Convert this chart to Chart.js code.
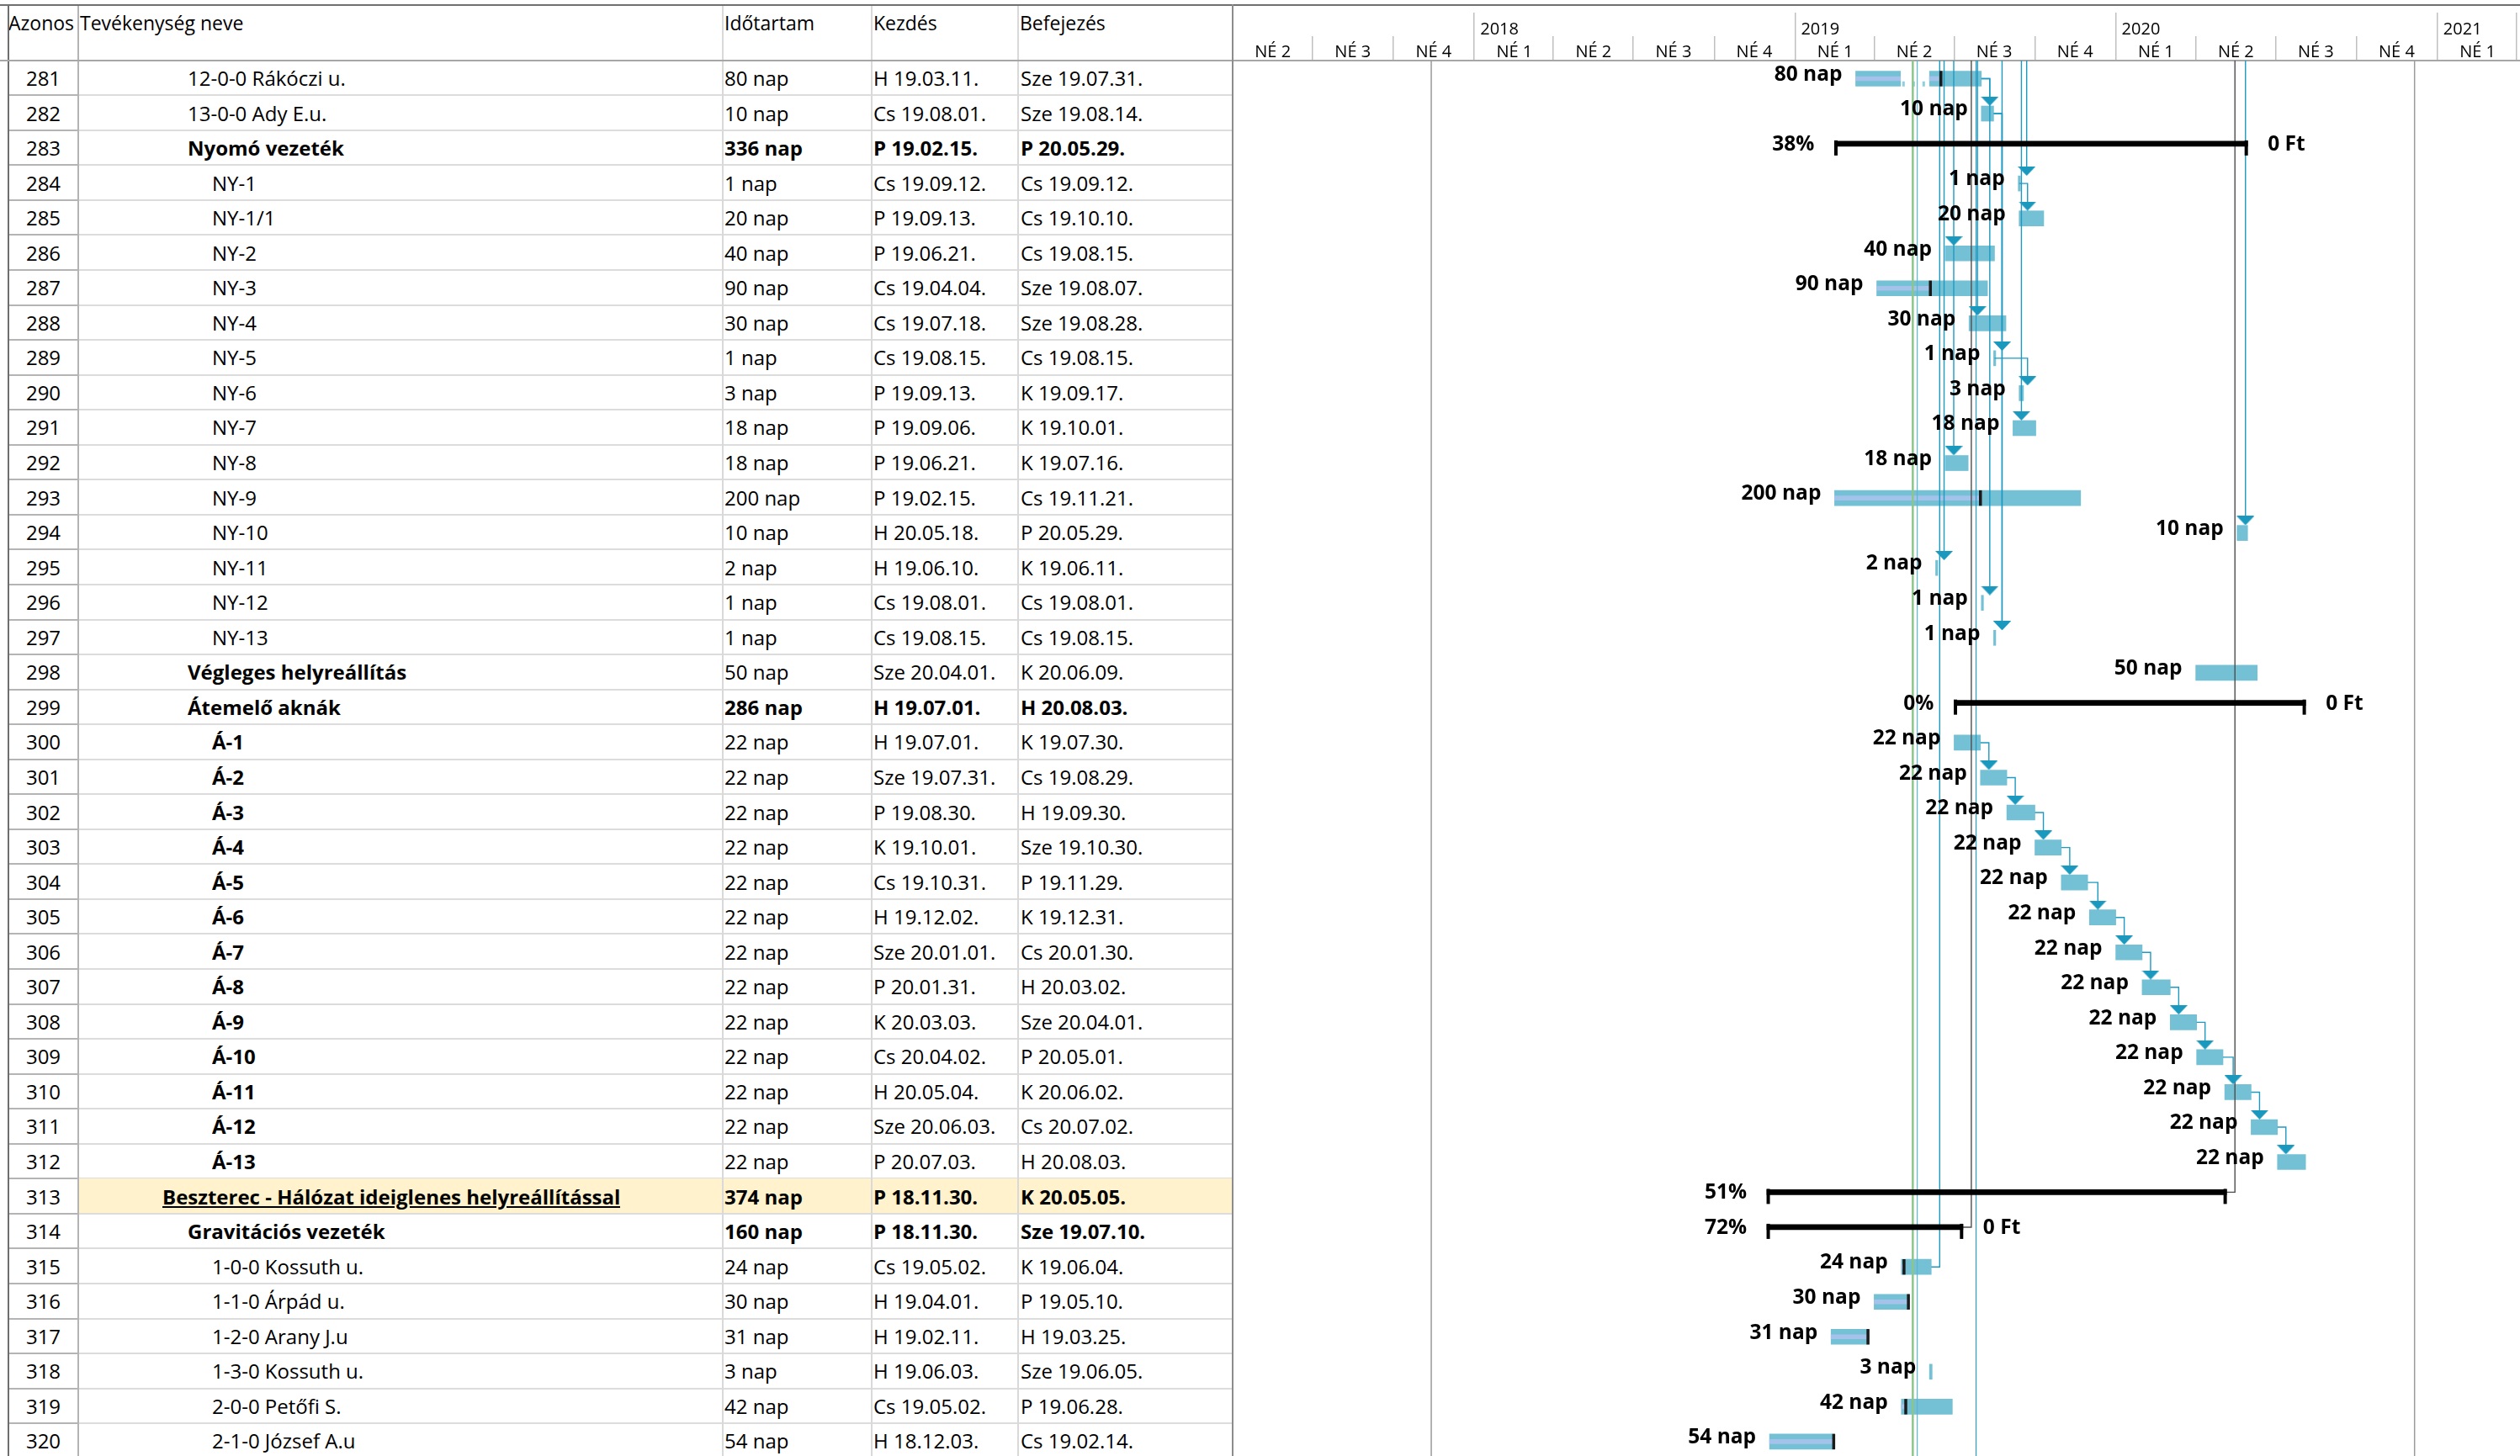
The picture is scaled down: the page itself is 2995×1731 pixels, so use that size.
<!DOCTYPE html>
<html lang="hu">
<head>
<meta charset="UTF-8">
<title>Beszterec - ütemterv</title>
<script src="https://cdn.jsdelivr.net/npm/chart.js"></script>
<style>
  html, body { margin: 0; padding: 0; background: #fff; }
  body { width: 2995px; height: 1731px; overflow: hidden; position: relative; font-family: "Open Sans", sans-serif; color: #000; }
  #grid { position: absolute; left: 0; top: 0; width: 1465px; height: 1740px; }
  .c { position: absolute; white-space: nowrap; font-size: 24px; box-sizing: border-box; overflow: hidden; display: flex; align-items: center; }
  .ln { position: absolute; }
  #gantt { position: absolute; left: 1465px; top: 0; }
</style>
</head>
<body>
<div id="grid"></div>
<canvas id="gantt" width="1530" height="1740"></canvas>
<script>
// ---- table data ----
const headers = ['Azonos', 'Tevékenység neve', 'Időtartam', 'Kezdés', 'Befejezés'];
const ids = [281, 282, 283, 284, 285, 286, 287, 288, 289, 290, 291, 292, 293, 294, 295, 296, 297, 298, 299, 300,
             301, 302, 303, 304, 305, 306, 307, 308, 309, 310, 311, 312, 313, 314, 315, 316, 317, 318, 319, 320];
const names = ['12-0-0 Rákóczi u.', '13-0-0 Ady E.u.', 'Nyomó vezeték', 'NY-1', 'NY-1/1', 'NY-2', 'NY-3', 'NY-4',
  'NY-5', 'NY-6', 'NY-7', 'NY-8', 'NY-9', 'NY-10', 'NY-11', 'NY-12', 'NY-13', 'Végleges helyreállítás',
  'Átemelő aknák', 'Á-1', 'Á-2', 'Á-3', 'Á-4', 'Á-5', 'Á-6', 'Á-7', 'Á-8', 'Á-9', 'Á-10', 'Á-11', 'Á-12', 'Á-13',
  'Beszterec - Hálózat ideiglenes helyreállítással', 'Gravitációs vezeték', '1-0-0 Kossuth u.', '1-1-0 Árpád u.',
  '1-2-0 Arany J.u', '1-3-0 Kossuth u.', '2-0-0 Petőfi S.', '2-1-0 József A.u'];
const levels = [2, 2, 2, 3, 3, 3, 3, 3, 3, 3, 3, 3, 3, 3, 3, 3, 3, 2, 2, 3,
                3, 3, 3, 3, 3, 3, 3, 3, 3, 3, 3, 3, 1, 2, 3, 3, 3, 3, 3, 3];
const nameBold = [0, 0, 1, 0, 0, 0, 0, 0, 0, 0, 0, 0, 0, 0, 0, 0, 0, 1, 1, 1,
                  1, 1, 1, 1, 1, 1, 1, 1, 1, 1, 1, 1, 1, 1, 0, 0, 0, 0, 0, 0];
const durations = ['80 nap', '10 nap', '336 nap', '1 nap', '20 nap', '40 nap', '90 nap', '30 nap', '1 nap', '3 nap',
  '18 nap', '18 nap', '200 nap', '10 nap', '2 nap', '1 nap', '1 nap', '50 nap', '286 nap', '22 nap',
  '22 nap', '22 nap', '22 nap', '22 nap', '22 nap', '22 nap', '22 nap', '22 nap', '22 nap', '22 nap',
  '22 nap', '22 nap', '374 nap', '160 nap', '24 nap', '30 nap', '31 nap', '3 nap', '42 nap', '54 nap'];
const starts = ['H 19.03.11.', 'Cs 19.08.01.', 'P 19.02.15.', 'Cs 19.09.12.', 'P 19.09.13.', 'P 19.06.21.',
  'Cs 19.04.04.', 'Cs 19.07.18.', 'Cs 19.08.15.', 'P 19.09.13.', 'P 19.09.06.', 'P 19.06.21.', 'P 19.02.15.',
  'H 20.05.18.', 'H 19.06.10.', 'Cs 19.08.01.', 'Cs 19.08.15.', 'Sze 20.04.01.', 'H 19.07.01.', 'H 19.07.01.',
  'Sze 19.07.31.', 'P 19.08.30.', 'K 19.10.01.', 'Cs 19.10.31.', 'H 19.12.02.', 'Sze 20.01.01.', 'P 20.01.31.',
  'K 20.03.03.', 'Cs 20.04.02.', 'H 20.05.04.', 'Sze 20.06.03.', 'P 20.07.03.', 'P 18.11.30.', 'P 18.11.30.',
  'Cs 19.05.02.', 'H 19.04.01.', 'H 19.02.11.', 'H 19.06.03.', 'Cs 19.05.02.', 'H 18.12.03.'];
const finishes = ['Sze 19.07.31.', 'Sze 19.08.14.', 'P 20.05.29.', 'Cs 19.09.12.', 'Cs 19.10.10.', 'Cs 19.08.15.',
  'Sze 19.08.07.', 'Sze 19.08.28.', 'Cs 19.08.15.', 'K 19.09.17.', 'K 19.10.01.', 'K 19.07.16.', 'Cs 19.11.21.',
  'P 20.05.29.', 'K 19.06.11.', 'Cs 19.08.01.', 'Cs 19.08.15.', 'K 20.06.09.', 'H 20.08.03.', 'K 19.07.30.',
  'Cs 19.08.29.', 'H 19.09.30.', 'Sze 19.10.30.', 'P 19.11.29.', 'K 19.12.31.', 'Cs 20.01.30.', 'H 20.03.02.',
  'Sze 20.04.01.', 'P 20.05.01.', 'K 20.06.02.', 'Cs 20.07.02.', 'H 20.08.03.', 'K 20.05.05.', 'Sze 19.07.10.',
  'K 19.06.04.', 'P 19.05.10.', 'H 19.03.25.', 'Sze 19.06.05.', 'P 19.06.28.', 'Cs 19.02.14.'];

// ---- gantt data ----
const summaryRows = [2, 18, 32, 33];
const summaryPct = ['38%', '0%', '51%', '72%'];
const summaryCost = ['0 Ft', '0 Ft', null, '0 Ft'];
const progress = [[0, '19.06.17.'], [6, '19.06.05.'], [12, '19.08.01.'], [34, '19.05.06.'],
                  [35, '19.05.11.'], [36, '19.03.26.'], [38, '19.05.08.'], [39, '19.02.15.']];
const splits = [[0, '19.05.01.', '19.06.03.']];
const links = [[0, 1], [0, 15], [1, 8], [1, 16], [3, 4], [8, 9], [19, 20], [20, 21], [21, 22], [22, 23],
               [23, 24], [24, 25], [25, 26], [26, 27], [27, 28], [28, 29], [29, 30], [30, 31]];
const feeds = [[3], [5, 11], [7], [8, 16], [10], [13], [14]];   // links coming from rows above the view
const drains = [[34, '#1e9ac2'], [33, '#4d4d4d'], [32, '#4d4d4d']]; // links leaving to rows above
const dateLines = [['17.11.13.', '#9a9a9a', 1.5], ['19.05.15.', '#8cc68a', 2.5], ['19.05.20.', '#5ab6d2', 1.2],
                   ['19.07.26.', '#2a9cc4', 1.2], ['20.12.06.', '#9a9a9a', 1.5]];
const quarterStarts = ['17.04.01.', '17.07.01.', '17.10.01.', '18.01.01.', '18.04.01.', '18.07.01.', '18.10.01.',
  '19.01.01.', '19.04.01.', '19.07.01.', '19.10.01.', '20.01.01.', '20.04.01.', '20.07.01.', '20.10.01.',
  '21.01.01.', '21.04.01.'];
const quarterLabels = ['NÉ 2', 'NÉ 3', 'NÉ 4', 'NÉ 1', 'NÉ 2', 'NÉ 3', 'NÉ 4', 'NÉ 1', 'NÉ 2', 'NÉ 3', 'NÉ 4',
  'NÉ 1', 'NÉ 2', 'NÉ 3', 'NÉ 4', 'NÉ 1', ''];
const yearStarts = ['18.01.01.', '19.01.01.', '20.01.01.', '21.01.01.', '21.04.01.'];
const yearLabels = ['2018', '2019', '2020', '2021', ''];

// ---- table ----
const ROW_TOP = 71.7, ROW_H = 41.55;
const cols = [10, 93, 859, 1036, 1210, 1465];
const indentX = {1: 193, 2: 223, 3: 252};
const grid = document.getElementById('grid');
function box(cls, css, text) {
  const d = document.createElement('div');
  d.className = cls;
  Object.assign(d.style, css);
  if (text != null) d.textContent = text;
  grid.appendChild(d);
  return d;
}
function line(x, y, w, h, color) {
  box('ln', {left: x + 'px', top: y + 'px', width: w + 'px', height: h + 'px', background: color});
}

ids.forEach((id, i) => {
  const top = ROW_TOP + i * ROW_H;
  const t = top + 'px', h = ROW_H + 'px';
  if (levels[i] === 1) line(cols[1], top, cols[5] - cols[1], ROW_H, '#fff2cc');
  const bold = summaryRows.includes(i) ? 700 : 400;
  box('c', {left: cols[0] + 'px', width: (cols[1] - cols[0]) + 'px', top: t, height: h, justifyContent: 'center'}, id);
  box('c', {left: indentX[levels[i]] + 'px', top: t, height: h, fontWeight: nameBold[i] ? 700 : 400,
            textDecoration: levels[i] === 1 ? 'underline' : 'none'}, names[i]);
  box('c', {left: (cols[2] + 2) + 'px', top: t, height: h, fontWeight: bold}, durations[i]);
  box('c', {left: (cols[3] + 2) + 'px', top: t, height: h, fontWeight: bold}, starts[i]);
  box('c', {left: (cols[4] + 3) + 'px', top: t, height: h, fontWeight: bold}, finishes[i]);
  line(cols[0], top + ROW_H - 1, cols[1] - cols[0], 2, '#b4b4b4');
  line(cols[1], top + ROW_H - 1, cols[5] - cols[1], 2, '#dcdcdc');
});
headers.forEach((hd, k) => {
  box('c', {left: (cols[k] + (k === 0 ? 0 : 2)) + 'px', top: '8px', height: '38px', fontSize: '23px'}, hd);
});
[2, 3, 4].forEach(k => line(cols[k] - 1, 6, 1.5, 1734, '#d9d9d9'));
line(cols[1] - 1, 6, 2, 1734, '#b4b4b4');
line(cols[0] - 1, 6, 2, 1734, '#6e6e6e');

// page frame lines
const frame = document.createElement('div');
frame.style.cssText = 'position:absolute;left:0;top:0;width:2995px;height:1740px;pointer-events:none;z-index:5';
document.body.appendChild(frame);
[[0, 4.5, 2995, 2, '#707070'], [0, 70.5, 1465, 2, '#a6a6a6'], [1464, 5, 2, 1735, '#8c8c8c']].forEach(r => {
  const d = document.createElement('div');
  d.style.cssText = `position:absolute;left:${r[0]}px;top:${r[1]}px;width:${r[2]}px;height:${r[3]}px;background:${r[4]}`;
  frame.appendChild(d);
});

// ---- gantt ----
const DAY0 = Date.UTC(2017, 3, 1);
function day(s) {
  const p = s.trim().split(' ').pop().split('.');
  return (Date.UTC(2000 + Number(p[0]), Number(p[1]) - 1, Number(p[2])) - DAY0) / 864e5;
}
const ARROW_SHIFT = 9.6;          // days, about 10 px
const BAR_Y = 0.017, ARROW_Y = -0.336, SUM_Y = -0.12;
const arrowX = i => day(starts[i]) + ARROW_SHIFT;

const taskBars = [], stripeBars = [], splitDashes = [], summaryBars = [], summaryTicks = [], progressMarks = [];
ids.forEach((id, i) => {
  const s = day(starts[i]), e = day(finishes[i]) + 1;
  if (summaryRows.includes(i)) {
    summaryBars.push({x: [s, e], y: i + SUM_Y});
    summaryTicks.push({x: s + 1.5, y: i}, {x: e - 1.5, y: i});
    return;
  }
  const sp = splits.find(r => r[0] === i);
  const segs = sp ? [[s, day(sp[1])], [day(sp[2]), e]] : [[s, e]];
  segs.forEach(g => taskBars.push({x: g, y: i + BAR_Y}));
  if (sp) splitDashes.push([{x: day(sp[1]) + 2, y: i + 0.17}, {x: day(sp[2]), y: i + 0.17}]);
  const pr = progress.find(r => r[0] === i);
  if (pr) {
    const p = day(pr[1]);
    segs.forEach(g => { if (p > g[0]) stripeBars.push({x: [g[0], Math.min(p, g[1])], y: i + BAR_Y}); });
    progressMarks.push({x: p - 1, y: i + BAR_Y});
  }
});

const linkPaths = [], arrowPts = [];
links.forEach(([a, b]) => {
  const ea = day(finishes[a]) + 1, xb = arrowX(b);
  linkPaths.push({c: '#1e9ac2', pts: [{x: ea, y: a + BAR_Y}, {x: xb, y: a + BAR_Y}, {x: xb, y: b + ARROW_Y}]});
  arrowPts.push({x: xb, y: b + ARROW_Y});
});
feeds.forEach(g => {
  const xb = arrowX(g[0]);
  linkPaths.push({c: '#1e9ac2', pts: [{x: xb, y: -0.5}, {x: xb, y: g[g.length - 1] + ARROW_Y}]});
  g.forEach(r => arrowPts.push({x: arrowX(r), y: r + ARROW_Y}));
});
drains.forEach(([r, c]) => {
  const e = day(finishes[r]) + 1;
  const y = summaryRows.includes(r) ? r + SUM_Y : r + BAR_Y;
  linkPaths.push({c, pts: [{x: e, y}, {x: e + ARROW_SHIFT, y}, {x: e + ARROW_SHIFT, y: -0.5}]});
});

// arrow head image
const arrowImg = document.createElement('canvas');
arrowImg.width = 21; arrowImg.height = 11;
(() => {
  const c = arrowImg.getContext('2d');
  c.fillStyle = '#1b98bd';
  c.beginPath(); c.moveTo(0, 0); c.lineTo(21, 0); c.lineTo(10.5, 11); c.closePath(); c.fill();
})();

const datasets = [];
dateLines.forEach(([d, c, w]) => datasets.push({
  type: 'line', data: [{x: day(d), y: -0.5}, {x: day(d), y: 39.6}], borderColor: c, borderWidth: w,
  pointRadius: 0, order: 28, xAxisID: 'x', yAxisID: 'y'
}));
datasets.push({
  type: 'bar', indexAxis: 'y', data: taskBars, backgroundColor: '#74c0d4', barThickness: 18,
  minBarLength: 2.5, grouped: false, order: 50, xAxisID: 'x', yAxisID: 'y'
});
datasets.push({
  type: 'bar', indexAxis: 'y', data: stripeBars, backgroundColor: '#a5c3ea', barThickness: 5,
  grouped: false, order: 45, xAxisID: 'x', yAxisID: 'y'
});
splitDashes.forEach(pts => datasets.push({
  type: 'line', data: pts, borderColor: '#8fd0e0', borderWidth: 6, borderDash: [3, 9], pointRadius: 0,
  order: 44, xAxisID: 'x', yAxisID: 'y'
}));
linkPaths.forEach(p => datasets.push({
  type: 'line', data: p.pts, borderColor: p.c, borderWidth: 1.4, pointRadius: 0, order: 30,
  xAxisID: 'x', yAxisID: 'y'
}));
datasets.push({
  type: 'scatter', data: arrowPts, pointStyle: arrowImg, pointRadius: 6, order: 20, xAxisID: 'x', yAxisID: 'y'
});
datasets.push({
  type: 'bar', indexAxis: 'y', data: summaryBars, backgroundColor: '#000', barThickness: 6,
  grouped: false, order: 15, xAxisID: 'x', yAxisID: 'y'
});
datasets.push({
  type: 'scatter', data: summaryTicks, pointStyle: 'line', rotation: 90, pointRadius: 9,
  borderColor: '#000', borderWidth: 4, order: 10, xAxisID: 'x', yAxisID: 'y'
});
datasets.push({
  type: 'scatter', data: progressMarks, pointStyle: 'line', rotation: 90, pointRadius: 9.2,
  borderColor: '#1a1a1a', borderWidth: 3.5, order: 5, xAxisID: 'x', yAxisID: 'y'
});

const taskLabels = {
  id: 'taskLabels',
  afterDatasetsDraw(chart) {
    const {ctx, scales: {x, y}} = chart;
    ctx.save();
    ctx.font = 'bold 24.5px "Open Sans"';
    ctx.fillStyle = '#000';
    ctx.textBaseline = 'alphabetic';
    ids.forEach((id, i) => {
      const yy = y.getPixelForValue(i) + 3;
      const k = summaryRows.indexOf(i);
      if (k < 0) {
        ctx.textAlign = 'right';
        ctx.fillText(durations[i], x.getPixelForValue(day(starts[i])) - 16, yy);
      } else {
        ctx.textAlign = 'right';
        ctx.fillText(summaryPct[k], x.getPixelForValue(day(starts[i])) - 24, yy);
        if (summaryCost[k]) {
          ctx.textAlign = 'left';
          ctx.fillText(summaryCost[k], x.getPixelForValue(day(finishes[i]) + 1) + 24, yy);
        }
      }
    });
    ctx.restore();
  }
};

const headFont = {family: 'Open Sans', size: 20};
new Chart(document.getElementById('gantt'), {
  type: 'bar',
  data: {datasets},
  options: {
    responsive: false,
    devicePixelRatio: 1,
    animation: false,
    events: [],
    layout: {autoPadding: false, padding: {top: 5, left: 0, right: 0, bottom: 6}},
    plugins: {legend: {display: false}, tooltip: {enabled: false}},
    scales: {
      x: {
        type: 'linear', position: 'top', weight: 0, min: 0, max: 1465, offset: false, bounds: 'data',
        afterBuildTicks: s => { s.ticks = quarterStarts.map(d => ({value: day(d)})); },
        afterFit: s => { s.height = 29; s.paddingLeft = 0; s.paddingRight = 0; },
        ticks: {
          autoSkip: false, maxRotation: 0, minRotation: 0, font: headFont, color: '#000',
          labelOffset: 47.7, padding: -31, callback: (v, i) => quarterLabels[i]
        },
        grid: {offset: false, drawOnChartArea: false, tickLength: 29, color: '#bfbfbf', lineWidth: 1.5},
        border: {display: true, color: '#a6a6a6', width: 2}
      },
      xYear: {
        type: 'linear', position: 'top', weight: 1, min: 0, max: 1465, offset: false, bounds: 'data',
        afterBuildTicks: s => { s.ticks = yearStarts.map(d => ({value: day(d)})); },
        afterFit: s => { s.height = 38; s.paddingLeft = 0; s.paddingRight = 0; },
        ticks: {
          autoSkip: false, maxRotation: 0, minRotation: 0, font: headFont, color: '#000', align: 'start',
          labelOffset: 7, padding: -32, callback: (v, i) => yearLabels[i]
        },
        grid: {offset: false, drawOnChartArea: false, tickLength: 28, color: '#bfbfbf', lineWidth: 1.5},
        border: {display: false}
      },
      y: {
        type: 'linear', display: false, reverse: true, min: -0.5, max: 39.5, offset: false,
        grid: {offset: false}
      }
    }
  },
  plugins: [taskLabels]
});
</script>
</body>
</html>
